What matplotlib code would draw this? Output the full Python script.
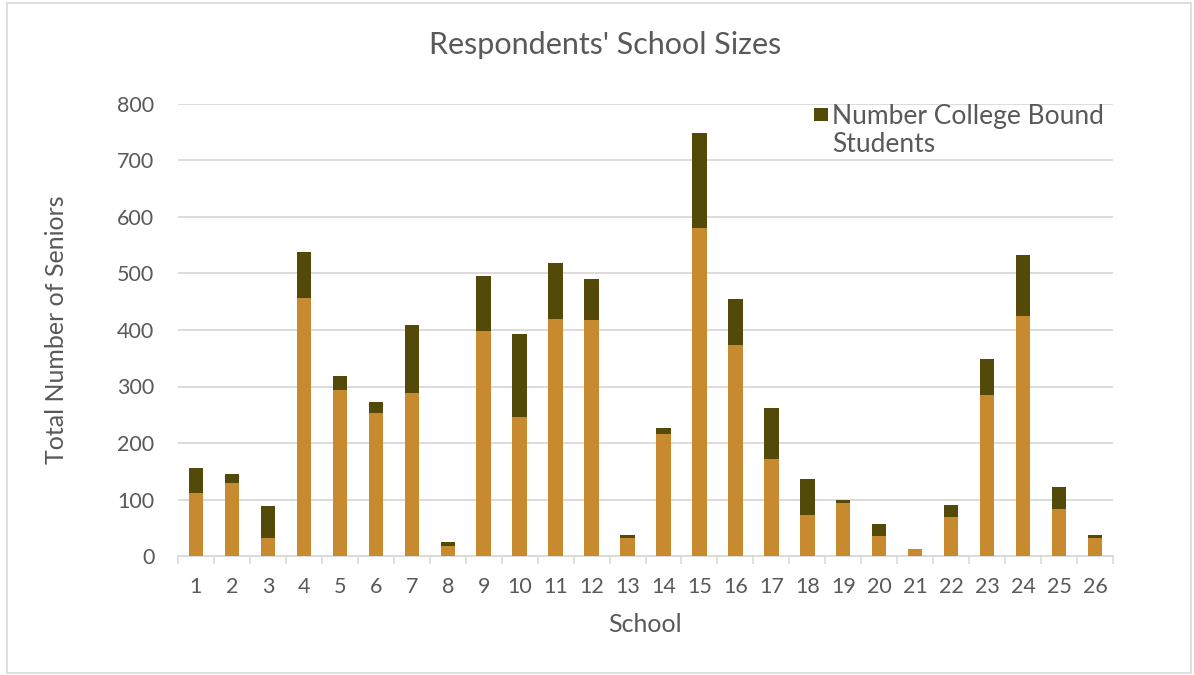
import matplotlib
matplotlib.use("Agg")
import matplotlib.pyplot as plt
from matplotlib.patches import Rectangle
import numpy as np

schools = [str(i) for i in range(1, 27)]
other_seniors = [112, 129, 31, 457, 294, 253, 289, 17, 399, 246, 419, 418, 32,
                 216, 581, 374, 171, 73, 94, 36, 12, 69, 285, 424, 83, 31]
college_bound = [43, 16, 57, 81, 24, 19, 119, 8, 97, 147, 99, 72, 6,
                 10, 168, 81, 91, 64, 6, 20, 0, 21, 63, 108, 40, 7]
y_ticks = [0, 100, 200, 300, 400, 500, 600, 700, 800]
legend_label = 'Number College Bound\nStudents'

plt.rcParams['font.family'] = ['Lato', 'DejaVu Sans']
gray = '#595959'
tan = '#C78A2F'
dark = '#534909'

W, H = 1194, 675
fig = plt.figure(figsize=(W / 100, H / 100), dpi=100)
ax = fig.add_axes([178 / W, 1 - 556 / H, (1113 - 178) / W, (556 - 104) / H])

x = np.arange(len(schools))
ax.bar(x, other_seniors, width=0.4, color=tan, zorder=3)
ax.bar(x, college_bound, width=0.4, bottom=other_seniors, color=dark, zorder=3)

ax.set_xlim(-0.5, len(schools) - 0.5)
ax.set_ylim(0, 800)
ax.set_yticks(y_ticks)
ax.set_yticklabels([str(v) for v in y_ticks], fontsize=15.5, color=gray)
ax.set_xticks(x)
ax.set_xticklabels(schools, fontsize=15.5, color=gray)
ax.set_xticks(np.arange(-0.5, len(schools), 1), minor=True)
ax.tick_params(axis='x', which='major', length=0, pad=15)
ax.tick_params(axis='x', which='minor', length=6, color='#D9D9D9', width=1.2)
ax.tick_params(axis='y', length=0, pad=17)
ax.grid(axis='y', color='#D9D9D9', linewidth=1.3, zorder=0)
for s in ['left', 'right', 'top']:
    ax.spines[s].set_visible(False)
ax.spines['bottom'].set_color('#D9D9D9')
ax.spines['bottom'].set_linewidth(1.3)

fig.text(645 / W, 1 - 625 / H, 'School', fontsize=18, color=gray, ha='center', va='center')
fig.text(57 / W, 1 - 330 / H, 'Total Number of Seniors', fontsize=18, color=gray,
         ha='center', va='center', rotation=90)
fig.text(605 / W, 1 - 45 / H, "Respondents' School Sizes", fontsize=22, color=gray,
         ha='center', va='center')

# legend (square aligned to first line, as in the reference)
fig.patches.append(Rectangle((814 / W, 1 - 121 / H), 14 / W, 13 / H, transform=fig.transFigure,
                             facecolor=dark, edgecolor='none'))
fig.text(832 / W, 1 - 104 / H, legend_label, fontsize=19, color=gray, ha='left', va='top',
         linespacing=1.13)

fig.patches.append(Rectangle((7 / W, 2 / H), 1184 / W, 670 / H, transform=fig.transFigure,
                             fill=False, edgecolor='#D9D9D9', linewidth=1.2))

fig.savefig('out.png', dpi=100)
